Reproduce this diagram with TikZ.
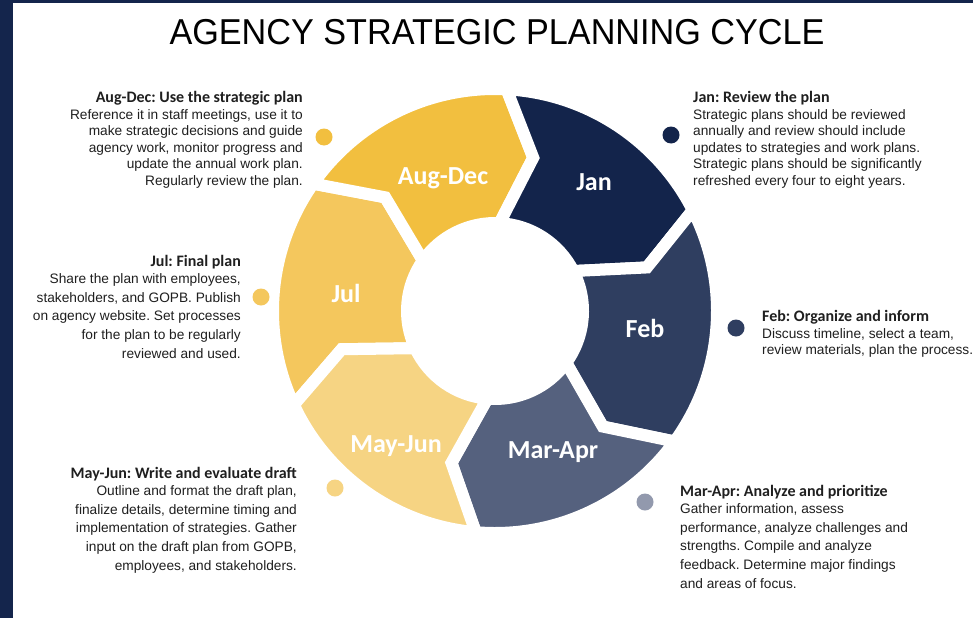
\documentclass[tikz,border=0pt]{standalone}
\usepackage{fontspec}
\setmainfont{Liberation Sans}
\newfontfamily\calibri{Carlito}
\usetikzlibrary{positioning}
\frenchspacing

\definecolor{edgeblue}{HTML}{14254C}
\definecolor{julc}{HTML}{F4C75D}
\definecolor{augc}{HTML}{F2BF3F}
\definecolor{janc}{HTML}{13244B}
\definecolor{febc}{HTML}{2F3E60}
\definecolor{marc}{HTML}{55617E}
\definecolor{marcdot}{HTML}{9299AD}
\definecolor{mayc}{HTML}{F6D483}

\tikzset{
  seglabel/.style={text=white, font=\calibri\bfseries\fontsize{26}{26}\selectfont},
  dot/.style={circle, minimum size=17pt, inner sep=0pt},
  note/.style={inner sep=0pt, text=black!88, font=\fontsize{13.7}{16.6}\selectfont},
  notewide/.style={note, font=\fontsize{13.7}{18.7}\selectfont}
}
\newcommand{\heading}[1]{{\calibri\bfseries\fontsize{16}{16.6}\selectfont #1}}

\begin{document}
\begin{tikzpicture}[x=1pt, y=1pt]
  \useasboundingbox (0,0) rectangle (973,-618);
  \fill[white] (0,0) rectangle (973,-618);
  \fill[edgeblue] (0,0) rectangle (13,-618);
  \fill[edgeblue] (0,0) rectangle (973,-3);

  \node[font=\fontsize{36}{36}\selectfont] (title) at (497,-32)
    {\scalebox{0.95}[1]{AGENCY STRATEGIC PLANNING CYCLE}};

  % ring of arrow segments, clockwise
  \begin{scope}[shift={(495,-311)}]
    \foreach \col/\ts/\te in {julc/205/145, augc/145/87, janc/87/27,
                              febc/27/-36, marc/-36/-95, mayc/-95/-155}
      \filldraw[fill=\col, draw=white, line width=12pt]
        (\ts:222) arc[start angle=\ts, end angle=\te, radius=222]
        -- (\te-11:158) -- (\te:88)
        arc[start angle=\te, end angle=\ts, radius=88]
        -- (\ts-11:158) -- cycle;
  \end{scope}

  % segment labels
  \node[seglabel] (aug) at (443,-178) {Aug-Dec};
  \node[seglabel] (jan) at (594,-182) {Jan};
  \node[seglabel] (feb) at (645,-328) {Feb};
  \node[seglabel] (mar) at (553,-452) {Mar-Apr};
  \node[seglabel] (may) at (396,-446) {May-Jun};
  \node[seglabel] (jul) at (346,-293) {Jul};

  % dots
  \node[dot, fill=augc] (aug-dot) at (324,-137) {};
  \node[dot, fill=janc] (jan-dot) at (671,-135) {};
  \node[dot, fill=febc] (feb-dot) at (736,-328) {};
  \node[dot, fill=marcdot] (mar-dot) at (645,-502) {};
  \node[dot, fill=mayc] (may-dot) at (335,-488) {};
  \node[dot, fill=julc] (jul-dot) at (261,-297) {};

  % notes
  \node[note, align=right, anchor=north east] (aug-note) at (303,-91)
    {\heading{Aug-Dec: Use the strategic plan}\\
     Reference it in staff meetings, use it to\\
     make strategic decisions and guide\\
     agency work, monitor progress and\\
     update the annual work plan.\\
     Regularly review the plan.};
  \node[note, align=left, anchor=north west] (jan-note) at (693,-91)
    {\heading{Jan: Review the plan}\\
     Strategic plans should be reviewed\\
     annually and review should include\\
     updates to strategies and work plans.\\
     Strategic plans should be significantly\\
     refreshed every four to eight years.};
  \node[note, align=left, anchor=north west] (feb-note) at (762,-310)
    {\heading{Feb: Organize and inform}\\
     Discuss timeline, select a team,\\
     review materials, plan the process.};
  \node[notewide, align=left, anchor=north west] (mar-note) at (680,-485)
    {\heading{Mar-Apr: Analyze and prioritize}\\[-1.7pt]
     Gather information, assess\\
     performance, analyze challenges and\\
     strengths. Compile and analyze\\
     feedback. Determine major findings\\
     and areas of focus.};
  \node[notewide, align=right, anchor=north east] (may-note) at (297,-467)
    {\heading{May-Jun: Write and evaluate draft}\\[-1.7pt]
     Outline and format the draft plan,\\
     finalize details, determine timing and\\
     implementation of strategies. Gather\\
     input on the draft plan from GOPB,\\
     employees, and stakeholders.};
  \node[notewide, align=right, anchor=north east] (jul-note) at (241,-255)
    {\heading{Jul: Final plan}\\[-1.7pt]
     Share the plan with employees,\\
     stakeholders, and GOPB. Publish\\
     on agency website. Set processes\\
     for the plan to be regularly\\
     reviewed and used.};
\end{tikzpicture}
\end{document}
